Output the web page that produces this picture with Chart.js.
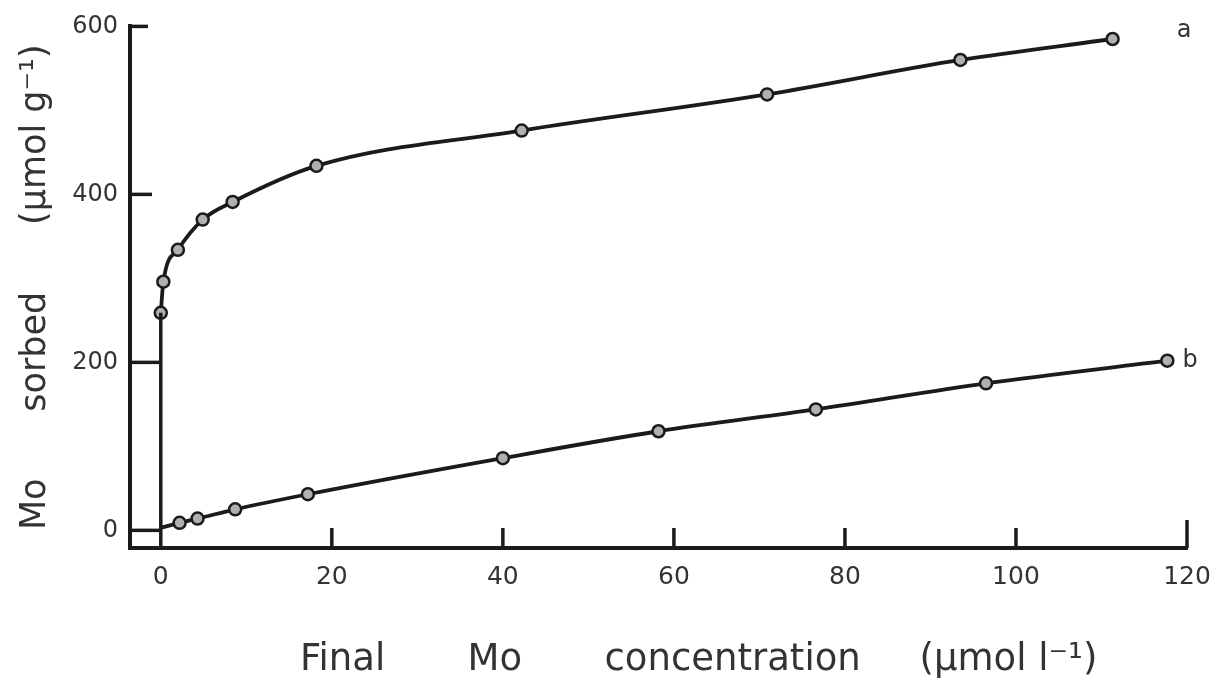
<!DOCTYPE html>
<html>
<head>
<meta charset="utf-8">
<script src="https://cdn.jsdelivr.net/npm/chart.js@4.4.1/dist/chart.umd.min.js"></script>
<style>
  html, body { margin: 0; padding: 0; background: #ffffff; }
  #wrap { width: 1228px; height: 680px; position: relative; }
</style>
</head>
<body>
<div id="wrap"><canvas id="c" width="1228" height="680"></canvas></div>
<script>
// ---- data ----
const xTickValues = [0, 20, 40, 60, 80, 100, 120];
const yTickValues = [0, 200, 400, 600];
const xRange = [-3.6, 120];
const yRange = [-21, 600];

// curve a
const curveA_x = [0, 0.3, 2.0, 4.9, 8.4, 18.2, 42.2, 70.9, 93.5, 111.3];
const curveA_y = [259, 296, 334, 370, 391, 434, 476, 519, 560, 585];
// curve b (first point is the start of the line, no marker)
const curveB_x = [0, 2.2, 4.3, 8.7, 17.2, 40.0, 58.2, 76.6, 96.5, 117.7];
const curveB_y = [3, 9, 14, 25, 43, 86, 118, 144, 175, 202];
const curveB_marker = [0, 1, 1, 1, 1, 1, 1, 1, 1, 1];
const seriesLabels = ['a', 'b'];

const yTitle = 'Mo      sorbed      (\u00b5mol g\u207b\u00b9)';
const xTitle = 'Final       Mo       concentration     (\u00b5mol l\u207b\u00b9)';

const INK = '#1b1b1b';
const TXT = '#333333';
const FONT = '"DejaVu Sans", sans-serif';

const toPts = (xs, ys) => xs.map((x, i) => ({ x: x, y: ys[i] }));

const decor = {
  id: 'decor',
  afterDraw(chart) {
    const ctx = chart.ctx;
    const xs = chart.scales.x, ys = chart.scales.y;
    const area = chart.chartArea;
    ctx.save();
    ctx.strokeStyle = INK;
    ctx.lineWidth = 3.5;
    ctx.lineCap = 'butt';
    // inward y ticks
    const x0 = xs.getPixelForValue(0);
    yTickValues.forEach(v => {
      const py = ys.getPixelForValue(v);
      const end = v <= 200 ? x0 : area.left + (v === 400 ? 22 : 18);
      ctx.beginPath();
      ctx.moveTo(area.left, py);
      ctx.lineTo(end, py);
      ctx.stroke();
    });
    // inward x ticks
    xTickValues.forEach(v => {
      if (v === 0) return;
      const px = xs.getPixelForValue(v);
      ctx.beginPath();
      ctx.moveTo(px, area.bottom);
      ctx.lineTo(px, area.bottom - (v === 120 ? 28 : 20));
      ctx.stroke();
    });
    // series labels
    ctx.fillStyle = TXT;
    ctx.font = '24px ' + FONT;
    ctx.textAlign = 'center';
    ctx.textBaseline = 'middle';
    const lx = xs.getPixelForValue(xRange[1]);
    ctx.fillText(seriesLabels[0], lx - 3, ys.getPixelForValue(curveA_y[curveA_y.length - 1]) - 8);
    ctx.fillText(seriesLabels[1], lx + 3, ys.getPixelForValue(curveB_y[curveB_y.length - 1]));
    // x-axis title
    ctx.font = '37px ' + FONT;
    ctx.textAlign = 'left';
    ctx.textBaseline = 'alphabetic';
    ctx.fillText(xTitle, 300, 670);
    ctx.restore();
  }
};

new Chart(document.getElementById('c'), {
  type: 'scatter',
  data: {
    datasets: [
      {
        label: 'zero',
        data: [{ x: curveA_x[0], y: yRange[0] }, { x: curveA_x[0], y: curveA_y[0] }],
        showLine: true,
        borderColor: INK,
        borderWidth: 3.5,
        pointRadius: 0
      },
      {
        label: seriesLabels[0],
        data: toPts(curveA_x, curveA_y),
        showLine: true,
        cubicInterpolationMode: 'monotone',
        borderColor: INK,
        borderWidth: 3.8,
        pointRadius: 6,
        pointBorderWidth: 2.5,
        pointBorderColor: INK,
        pointBackgroundColor: '#b0b0b0'
      },
      {
        label: seriesLabels[1],
        data: toPts(curveB_x, curveB_y),
        showLine: true,
        cubicInterpolationMode: 'monotone',
        borderColor: INK,
        borderWidth: 3.8,
        pointRadius: curveB_marker.map(m => m ? 6 : 0),
        pointBorderWidth: 2.5,
        pointBorderColor: INK,
        pointBackgroundColor: '#b0b0b0'
      }
    ]
  },
  options: {
    responsive: false,
    animation: false,
    devicePixelRatio: 1,
    layout: { padding: { left: 0, right: 41, top: 16, bottom: 0 } },
    plugins: { legend: { display: false }, tooltip: { enabled: false } },
    scales: {
      x: {
        type: 'linear',
        min: xRange[0],
        max: xRange[1],
        afterBuildTicks(scale) { scale.ticks = xTickValues.map(v => ({ value: v })); },
        afterFit(scale) { scale.height = 132; },
        grid: { display: false, drawTicks: false },
        border: { display: true, color: INK, width: 4 },
        ticks: { color: TXT, font: { family: FONT, size: 25 }, padding: 14, maxRotation: 0 },
        title: { display: false }
      },
      y: {
        type: 'linear',
        min: yRange[0],
        max: yRange[1],
        afterBuildTicks(scale) { scale.ticks = yTickValues.map(v => ({ value: v })); },
        afterFit(scale) { scale.width = 130; },
        grid: { display: false, drawTicks: false },
        border: { display: true, color: INK, width: 4 },
        ticks: { color: TXT, font: { family: FONT, size: 24 }, padding: 12 },
        title: {
          display: true,
          text: yTitle,
          color: TXT,
          font: { family: FONT, size: 35, lineHeight: 1.2 },
          padding: { top: 15, bottom: 0 }
        }
      }
    }
  },
  plugins: [decor]
});
</script>
</body>
</html>
